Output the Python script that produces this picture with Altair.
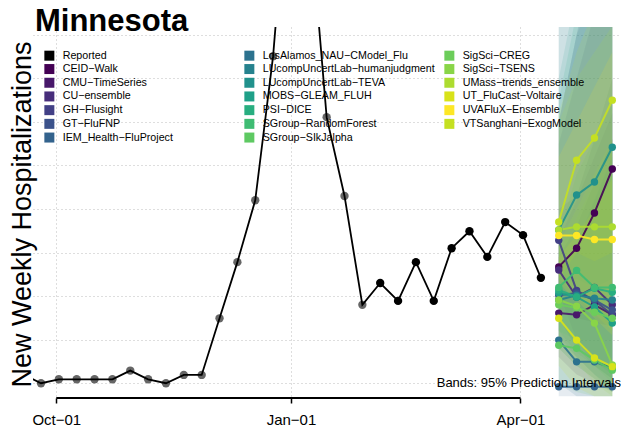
import altair as alt
import pandas as pd

STATE = "Minnesota"
Y_TITLE = "New Weekly Hospitalizations"
NOTE = "Bands: 95% Prediction Intervals"

# Reported weekly values
reported_dates = ["2022-09-18", "2022-09-25", "2022-10-02", "2022-10-09", "2022-10-16",
                  "2022-10-23", "2022-10-30", "2022-11-06", "2022-11-13", "2022-11-20",
                  "2022-11-27", "2022-12-04", "2022-12-11", "2022-12-18", "2022-12-25",
                  "2023-01-01", "2023-01-08", "2023-01-15", "2023-01-22", "2023-01-29",
                  "2023-02-05", "2023-02-12", "2023-02-19", "2023-02-26", "2023-03-05",
                  "2023-03-12", "2023-03-19", "2023-03-26", "2023-04-02", "2023-04-09"]
reported_values = [20, 0, 9, 9, 9, 9, 29, 9, 0, 19, 19, 149, 278, 420, 751,
                   1250, 1100, 611, 430, 180, 230, 189, 278, 189, 310, 349, 290, 370, 340, 242]
reported_status = ["revised"] * 20 + ["final"] * 10

forecast_dates = ["2023-04-16", "2023-04-23", "2023-04-30", "2023-05-07"]

models = ["CEID−Walk", "CMU−TimeSeries", "CU−ensemble", "GH−Flusight", "GT−FluFNP",
          "IEM_Health−FluProject", "LosAlamos_NAU−CModel_Flu", "LUcompUncertLab−humanjudgment",
          "LUcompUncertLab−TEVA", "MOBS−GLEAM_FLUH", "PSI−DICE", "SGroup−RandomForest",
          "SGroup−SIkJalpha", "SigSci−CREG", "SigSci−TSENS", "UMass−trends_ensemble",
          "UT_FluCast−Voltaire", "UVAFluX−Ensemble", "VTSanghani−ExogModel"]
model_colors = ["#440154", "#48186a", "#472d7b", "#424086", "#3b528b", "#33638d",
                "#2c728e", "#26828e", "#21918c", "#1fa088", "#28ae80", "#3fbc73",
                "#5ec962", "#6ccd5a", "#89d548", "#addc30", "#d8e219", "#fde725", "#c5e021"]

median = {
    "CEID−Walk": [267, 310, 391, 492],
    "CMU−TimeSeries": [161, 157, 180, 157],
    "CU−ensemble": [260, 198, 220, 180],
    "GH−Flusight": [328, 213, 190, 157],
    "GT−FluFNP": [202, 207, 191, 168],
    "IEM_Health−FluProject": [-8, -8, -8, -8],
    "LosAlamos_NAU−CModel_Flu": [99, 49, 49, 35],
    "LUcompUncertLab−humanjudgment": [191, 202, 195, 191],
    "LUcompUncertLab−TEVA": [352, 432, 462, 542],
    "MOBS−GLEAM_FLUH": [207, 198, 175, 138],
    "PSI−DICE": [214, 198, 218, 209],
    "SGroup−RandomForest": [220, 259, 220, 220],
    "SGroup−SIkJalpha": [87, 80, 53, 30],
    "SigSci−CREG": [180, 173, 163, 149],
    "SigSci−TSENS": [191, 177, 138, 42],
    "UMass−trends_ensemble": [352, 359, 359, 359],
    "UT_FluCast−Voltaire": [149, 99, 58, 38],
    "UVAFluX−Ensemble": [339, 339, 330, 330],
    "VTSanghani−ExogModel": [370, 512, 563, 650],
}
lower = {
    "CEID−Walk": [170, 150, 140, 130],
    "CMU−TimeSeries": [60, 20, 0, -20],
    "CU−ensemble": [150, 80, 40, 10],
    "GH−Flusight": [210, 100, 50, 20],
    "GT−FluFNP": [100, 60, 20, -10],
    "IEM_Health−FluProject": [-30, -30, -30, -30],
    "LosAlamos_NAU−CModel_Flu": [0, -30, -30, -30],
    "LUcompUncertLab−humanjudgment": [80, 40, 10, -20],
    "LUcompUncertLab−TEVA": [220, 240, 220, 240],
    "MOBS−GLEAM_FLUH": [110, 60, 20, -20],
    "PSI−DICE": [120, 70, 40, 10],
    "SGroup−RandomForest": [120, 100, 40, 0],
    "SGroup−SIkJalpha": [0, -20, -30, -30],
    "SigSci−CREG": [80, 40, 10, -20],
    "SigSci−TSENS": [90, 50, 0, -30],
    "UMass−trends_ensemble": [240, 200, 160, 120],
    "UT_FluCast−Voltaire": [40, -10, -30, -30],
    "UVAFluX−Ensemble": [230, 190, 150, 110],
    "VTSanghani−ExogModel": [240, 300, 280, 300],
}
upper = {
    "CEID−Walk": [600, 800, 1000, 1300],
    "CMU−TimeSeries": [290, 360, 460, 560],
    "CU−ensemble": [400, 430, 560, 700],
    "GH−Flusight": [550, 700, 850, 1000],
    "GT−FluFNP": [330, 420, 520, 620],
    "IEM_Health−FluProject": [1000, 1200, 1400, 1600],
    "LosAlamos_NAU−CModel_Flu": [260, 320, 420, 520],
    "LUcompUncertLab−humanjudgment": [600, 800, 900, 1000],
    "LUcompUncertLab−TEVA": [850, 1000, 1200, 1400],
    "MOBS−GLEAM_FLUH": [700, 900, 1000, 1100],
    "PSI−DICE": [650, 850, 950, 1050],
    "SGroup−RandomForest": [340, 480, 560, 640],
    "SGroup−SIkJalpha": [240, 320, 400, 480],
    "SigSci−CREG": [300, 380, 460, 540],
    "SigSci−TSENS": [320, 400, 480, 560],
    "UMass−trends_ensemble": [600, 700, 760, 820],
    "UT_FluCast−Voltaire": [290, 340, 400, 470],
    "UVAFluX−Ensemble": [520, 600, 680, 760],
    "VTSanghani−ExogModel": [620, 760, 860, 950],
}

x_ticks = ["2022-10-01", "2023-01-01", "2023-04-01"]
y_grid = [0, 100, 200, 300, 400, 500, 600, 700, 800]

# ---------------- tables ----------------
rep = pd.DataFrame({"date": pd.to_datetime(reported_dates),
                    "value": reported_values, "status": reported_status})
rows = []
for m in models:
    for i, d in enumerate(forecast_dates):
        rows.append({"model": m, "date": pd.Timestamp(d), "value": median[m][i],
                     "lo": lower[m][i], "hi": upper[m][i]})
fc = pd.DataFrame(rows)

legend_names = ["Reported"] + models
legend_cols = ["#000000"] + model_colors

W, H = 588, 371
FONT = "Liberation Sans"

xscale = alt.Scale(domain=[alt.DateTime(year=2022, month=9, date=21, hours=20, minutes=46),
                           alt.DateTime(year=2023, month=5, date=10, hours=9, minutes=50)])
yscale = alt.Scale(domain=[-34, 818], nice=False, zero=False)

xaxis = alt.Axis(values=[alt.DateTime(year=int(t[:4]), month=int(t[5:7]), date=int(t[8:]))
                         for t in x_ticks],
                 format="%b−%d", title=None, domain=False, grid=True,
                 gridDash=[1, 3], gridColor="#bdbdbd", gridWidth=1,
                 tickColor="black", tickSize=5, tickWidth=1.5,
                 labelFont=FONT, labelFontSize=15, labelColor="black", labelPadding=9,
                 labelFlush=False, labelOverlap=False)
yaxis = alt.Axis(values=y_grid, labels=False, ticks=False, domain=False, grid=True,
                 gridDash=[1, 3], gridColor="#bdbdbd", gridWidth=1,
                 title=Y_TITLE, titleFont=FONT, titleFontSize=27, titleFontWeight="normal",
                 titleColor="black", titleAngle=270, titleX=-11, titleY=187,
                 titleAlign="center", titleBaseline="middle")

legend = alt.Legend(title=None, orient="none", legendX=11, legendY=23,
                    columns=3, gridAlign="all", columnPadding=9,
                    rowPadding=1.7, symbolType="square", symbolSize=100,
                    symbolStrokeWidth=0, symbolOpacity=1,
                    labelFont=FONT, labelFontSize=10.7, labelColor="black",
                    labelLimit=400, labelOffset=8, padding=0)
color_scale = alt.Scale(domain=legend_names, range=legend_cols)
color = alt.Color("model:N", scale=color_scale, legend=legend)

X = alt.X("date:T", scale=xscale, axis=xaxis)

bands = alt.Chart(fc).mark_area(opacity=0.12, clip=True).encode(
    x=X, y=alt.Y("lo:Q", scale=yscale, axis=yaxis), y2="hi:Q", color=color)

axis_line = alt.Chart(pd.DataFrame({"a": [pd.Timestamp(x_ticks[0])],
                                    "b": [pd.Timestamp(x_ticks[-1])]})).mark_rule(
    color="black", strokeWidth=2).encode(
    x=alt.X("a:T", scale=xscale, axis=xaxis), x2="b:T", y=alt.value(H))

Yv = alt.Y("value:Q", scale=yscale, axis=yaxis)

rep_line = alt.Chart(rep).mark_line(color="black", strokeWidth=1.8, clip=True).encode(
    x=X, y=Yv)

rep_pts_rev = alt.Chart(rep).transform_filter(alt.datum.status == "revised").mark_circle(
    color="black", opacity=0.6, size=70, clip=True).encode(x=X, y=Yv)

rep_pts_fin = alt.Chart(rep).transform_filter(alt.datum.status == "final").mark_circle(
    color="black", opacity=1, size=70, clip=True).encode(x=X, y=Yv)

fc_lines = alt.Chart(fc).mark_line(strokeWidth=2, opacity=0.9, clip=True).encode(
    x=X, y=Yv, color=color)

fc_pts = alt.Chart(fc).mark_point(filled=True, size=55, opacity=1, clip=True).encode(
    x=X, y=Yv, color=color)

note = alt.Chart(pd.DataFrame({"t": [NOTE]})).mark_text(
    align="right", baseline="middle", font=FONT, fontSize=13, color="black").encode(
    x=alt.value(W), y=alt.value(356), text="t:N")

title = alt.Chart(pd.DataFrame({"t": [STATE]})).mark_text(
    align="left", baseline="alphabetic", font=FONT, fontSize=31, fontWeight="bold",
    color="black").encode(x=alt.value(2), y=alt.value(4), text="t:N")

chart = alt.layer(bands, axis_line, rep_line, rep_pts_rev, rep_pts_fin, fc_lines, fc_pts,
                  note, title).properties(
    width=W, height=H,
    autosize=alt.AutoSizeParams(type="none"),
    padding={"left": 25, "top": 19, "right": 0, "bottom": 32},
).configure(background="white", view=alt.ViewConfig(stroke=None))

chart.save("out.html", embed_options={"renderer": "svg", "actions": False})
